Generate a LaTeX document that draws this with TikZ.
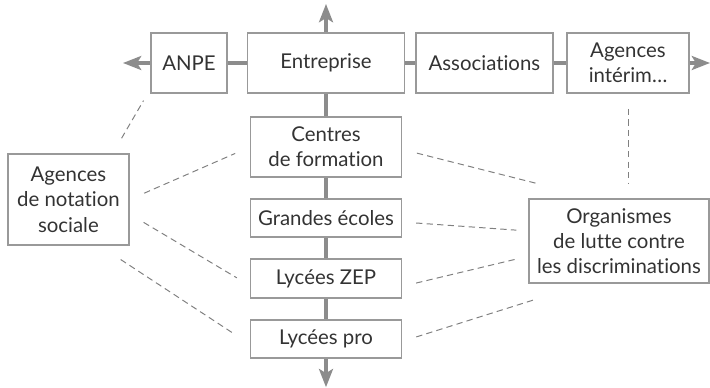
\documentclass[tikz,border=0pt]{standalone}
\usepackage{fontspec}
\setmainfont{Lato}[Ligatures={NoCommon,NoRequired,NoContextual}]
\usetikzlibrary{arrows.meta}

\begin{document}
\begin{tikzpicture}[
    box/.style={draw=black!40, line width=0.9pt, text=black!80, align=center,
        inner sep=0pt, font=\fontsize{14.5}{18}\selectfont},
    link/.style={draw=black!45, line width=2.2pt},
    tip/.style={link, -{Stealth[length=13pt, width=10pt, inset=3pt]}},
    hint/.style={draw=black!50, line width=0.7pt, dash pattern=on 4.5pt off 3pt}
    ]
    \useasboundingbox (0,0) rectangle (17.75,-9.7);

    % top row
    \node [box, minimum width=1.9cm, minimum height=1.5cm] (anpe) at (4.725,-1.575) {ANPE};
    \node [box, minimum width=3.925cm, minimum height=1.5cm] (entreprise) at (8.15,-1.575) {Entreprise};
    \node [box, minimum width=3.425cm, minimum height=1.5cm] (assoc) at (12.11,-1.575) {Associations};
    \node [box, minimum width=3.05cm, minimum height=1.5cm] (interim) at (15.7,-1.575) {Agences\\intérim\dots};

    % middle column
    \node [box, minimum width=3.775cm, minimum height=1.5cm] (centres) at (8.15,-3.675) {Centres\\de formation};
    \node [box, minimum width=3.775cm, minimum height=0.95cm] (ecoles) at (8.15,-5.45) {Grandes écoles};
    \node [box, minimum width=3.775cm, minimum height=0.975cm] (zep) at (8.15,-6.96) {Lycées ZEP};
    \node [box, minimum width=3.775cm, minimum height=0.95cm] (pro) at (8.15,-8.475) {Lycées pro};

    % sides
    \node [box, minimum width=3.025cm, minimum height=2.275cm] (notation) at (1.71,-4.99) {Agences\\de notation\\sociale};
    \node [box, minimum width=4.5cm, minimum height=2.1cm] (org) at (15.475,-6.025) {Organismes\\de lutte contre\\les discriminations};

    \coordinate (west end) at (3.075,-1.575);
    \coordinate (east end) at (17.75,-1.575);
    \coordinate (north end) at (8.15,-0.1);
    \coordinate (south end) at (8.15,-9.68);

    \draw [link] (anpe) -- (entreprise) -- (assoc) -- (interim);
    \draw [link] (entreprise) -- (centres) -- (ecoles) -- (zep) -- (pro);
    \draw [tip] (anpe) -- (west end);
    \draw [tip] (interim) -- (east end);
    \draw [tip] (entreprise) -- (north end);
    \draw [tip] (pro) -- (south end);

    % dashed links
    \draw [hint, shorten <=0.44cm, shorten >=0.2cm] ([xshift=-0.42cm]notation.north east) -- ([xshift=-0.07cm]anpe.south west);
    \draw [hint, shorten <=0.4cm, shorten >=0.4cm] (notation.east) -- (centres.west);
    \draw [hint, shorten <=0.41cm, shorten >=0.38cm] ([yshift=-0.36cm]notation.east) -- ([yshift=-0.18cm]zep.west);
    \draw [hint, shorten <=0.63cm, shorten >=0.5cm] ([xshift=0.78cm]notation.south) -- ([yshift=-0.13cm]pro.west);

    \draw [hint, shorten <=0.38cm, shorten >=1.52cm] ([yshift=-0.06cm]centres.east) -- ([xshift=-0.58cm]org.north);
    \draw [hint, shorten <=0.35cm, shorten >=0.3cm] ([yshift=-0.1cm]ecoles.east) -- ([yshift=0.25cm]org.west);
    \draw [hint, shorten <=0.36cm, shorten >=0.31cm] ([yshift=-0.2cm]zep.east) -- ([yshift=-0.38cm]org.west);
    \draw [hint, shorten <=0.37cm, shorten >=1.32cm] ([yshift=-0.06cm]pro.east) -- ([xshift=-0.84cm]org.south);
    \draw [hint, shorten <=0.38cm, shorten >=0.35cm] (interim.south) -- (interim.south |- org.north);

\end{tikzpicture}
\end{document}
